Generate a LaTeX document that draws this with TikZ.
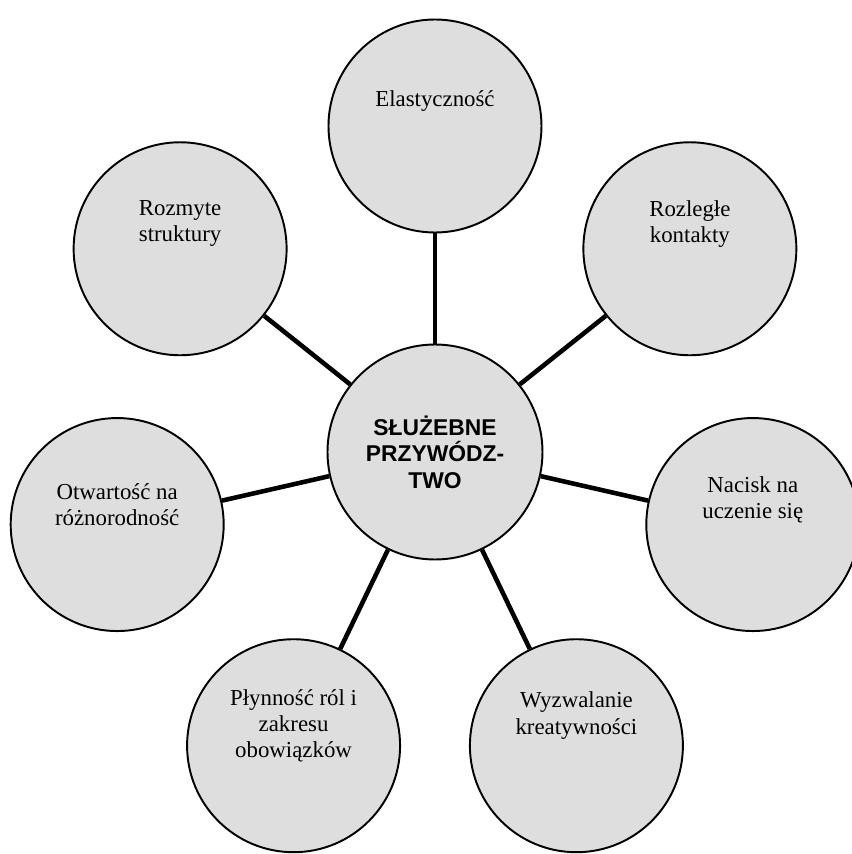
\documentclass[tikz,border=0pt]{standalone}
\usepackage{fontspec}
\setmainfont{Liberation Serif}
\setsansfont{Liberation Sans}
\begin{document}
\begin{tikzpicture}[auto, thick, font=\rmfamily]
\fontsize{13}{15}\selectfont
\tikzset{%
	contra/.style = {black, fill = black!13, text=black},
	idea/.style = {draw,circle, line width=1.1pt, minimum size = 4.26cm, contra},
	core/.style = {draw,circle, line width=1.1pt, minimum size = 4.3cm, align = center, font=\sffamily\bfseries, contra},
	lbl/.style = {align = center, inner sep = 0pt},
	con/.style = {line width=2.6pt}
}
\useasboundingbox (-8.7,-8.04) rectangle (8.32,9.04);

% Servant leadership

\draw node at (0,0) [core] (core) {\raisebox{2pt}{\parbox{3cm}{\centering SŁUŻEBNE\\PRZYWÓDZ-\\TWO}}};

\draw node at (90:6.52) [idea] (e1) { };
\draw node at (38.57:6.52) [idea] (e2) { };
\draw node at (-12.86:6.52) [idea] (e3) { };
\draw node at (-64.29:6.52) [idea] (e4) { };
\draw node at (-115.71:6.52) [idea] (e5) { };
\draw node at (-167.14:6.52) [idea] (e6) { };
\draw node at (141.43:6.52) [idea] (e7) { };

\draw node at ([yshift=.5cm]e1.center) [lbl] (l1) {Elastyczność};
\draw node at ([yshift=.5cm]e2.center) [lbl] (l2) {Rozległe\\kontakty};
\draw node at ([yshift=.5cm]e3.center) [lbl] (l3) {Nacisk na\\uczenie się};
\draw node at ([yshift=.6cm]e4.center) [lbl] (l4) {Wyzwalanie\\kreatywności};
\draw node at ([yshift=.4cm]e5.center) [lbl] (l5) {Płynność ról i\\zakresu\\obowiązków};
\draw node at ([yshift=.4cm]e6.center) [lbl] (l6) {Otwartość na\\różnorodność};
\draw node at ([yshift=.5cm]e7.center) [lbl] (l7) {Rozmyte\\struktury};

\draw[con] (core) -- (e1);
\draw[con] (core) -- (e2);
\draw[con] (core) -- (e3);
\draw[con] (core) -- (e4);
\draw[con] (core) -- (e5);
\draw[con] (core) -- (e6);
\draw[con] (core) -- (e7);

\end{tikzpicture}
\end{document}
